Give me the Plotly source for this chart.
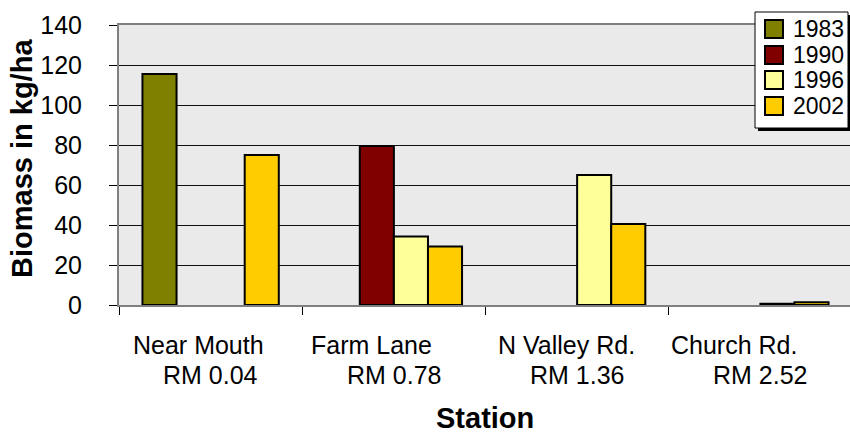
import plotly.graph_objects as go

# Stations along the river and their river-mile labels
stations = ["Near Mouth", "Farm Lane", "N Valley Rd.", "Church Rd."]
river_miles = ["RM 0.04", "RM 0.78", "RM 1.36", "RM 2.52"]

# Biomass (kg/ha) per survey year; None = not sampled
years = ["1983", "1990", "1996", "2002"]
biomass_1983 = [115.5, None, None, None]
biomass_1990 = [None, 79.5, None, None]
biomass_1996 = [None, 34.2, 65.0, 0.6]
biomass_2002 = [75.0, 29.2, 40.5, 1.4]

y_ticks = [0, 20, 40, 60, 80, 100, 120, 140]

series = [biomass_1983, biomass_1990, biomass_1996, biomass_2002]
colors = ["#808000", "#800000", "#FFFF99", "#FFCC00"]

FONT = "Liberation Sans, Arial, sans-serif"

# plot-area geometry in pixels (used to place the legend box in paper units)
W, H = 850, 435
ML, MR, MT, MB = 119, 0, 25, 130
PW, PH = W - ML - MR, H - MT - MB


def px_x(px):
    return (px - ML) / PW


def px_y(py):
    return (H - MB - py) / PH


fig = go.Figure()
for name, vals, col in zip(years, series, colors):
    fig.add_trace(go.Bar(
        x=stations, y=vals, name=name, showlegend=False,
        marker=dict(color=col, line=dict(color="black", width=2)),
    ))

# horizontal shift of the first label line relative to the category centre
line1_shift = [-12, -22, -11, -26]
annotations = []
for st, rm, dx in zip(stations, river_miles, line1_shift):
    annotations.append(dict(x=st, y=0, xref="x", yref="paper", text=st,
                            showarrow=False, xanchor="center", yanchor="middle",
                            xshift=dx, yshift=-40,
                            font=dict(family=FONT, size=25, color="black")))
    annotations.append(dict(x=st, y=0, xref="x", yref="paper", text=rm,
                            showarrow=False, xanchor="center", yanchor="middle",
                            yshift=-70,
                            font=dict(family=FONT, size=25, color="black")))

annotations.append(dict(x=0.5, y=0, xref="paper", yref="paper", text="<b>Station</b>",
                        showarrow=False, xanchor="center", yanchor="middle",
                        yshift=-113, font=dict(family=FONT, size=29, color="black")))
annotations.append(dict(x=0, y=0.5, xref="paper", yref="paper",
                        text="<b>Biomass in kg/ha</b>", textangle=-90,
                        showarrow=False, xanchor="center", yanchor="middle",
                        xshift=-97, yshift=6,
                        font=dict(family=FONT, size=29, color="black")))

# legend: shadow, white box, colour swatches and year labels
shapes = [
    dict(type="rect", xref="paper", yref="paper",
         x0=px_x(758), x1=px_x(852), y0=px_y(131), y1=px_y(15),
         fillcolor="black", line=dict(width=0), layer="above"),
    dict(type="rect", xref="paper", yref="paper",
         x0=px_x(755), x1=px_x(848), y0=px_y(128), y1=px_y(12),
         fillcolor="white", line=dict(color="black", width=1), layer="above"),
]
row_centers = [29, 55, 80, 106]
for yr, col, cy in zip(years, colors, row_centers):
    shapes.append(dict(type="rect", xref="paper", yref="paper",
                       x0=px_x(765), x1=px_x(783), y0=px_y(cy + 9), y1=px_y(cy - 9),
                       fillcolor=col, line=dict(color="black", width=2), layer="above"))
    annotations.append(dict(x=px_x(791), y=px_y(cy), xref="paper", yref="paper",
                            text=yr, showarrow=False, xanchor="left", yanchor="middle",
                            font=dict(family=FONT, size=23, color="black")))

fig.update_layout(
    width=W, height=H,
    margin=dict(l=ML, r=MR, t=MT, b=MB),
    paper_bgcolor="white",
    plot_bgcolor="#eaeaea",
    barmode="group",
    bargap=0.256,
    bargroupgap=0,
    showlegend=False,
    font=dict(family=FONT, size=24, color="black"),
    xaxis=dict(
        type="category", range=[-0.5, 3.489],
        tickson="boundaries", ticks="outside", ticklen=8, tickcolor="black",
        showticklabels=False, showgrid=False,
        showline=True, linecolor="#808080", linewidth=2, mirror=True,
    ),
    yaxis=dict(
        range=[0, 140], tickvals=y_ticks,
        ticks="outside", ticklen=8, tickcolor="black",
        ticklabelstandoff=22,
        tickfont=dict(family=FONT, size=25, color="black"),
        showgrid=True, gridcolor="#111111", gridwidth=1,
        zeroline=False,
        showline=True, linecolor="#808080", linewidth=2,
    ),
    annotations=annotations,
    shapes=shapes,
)

fig.write_html("out.html")
